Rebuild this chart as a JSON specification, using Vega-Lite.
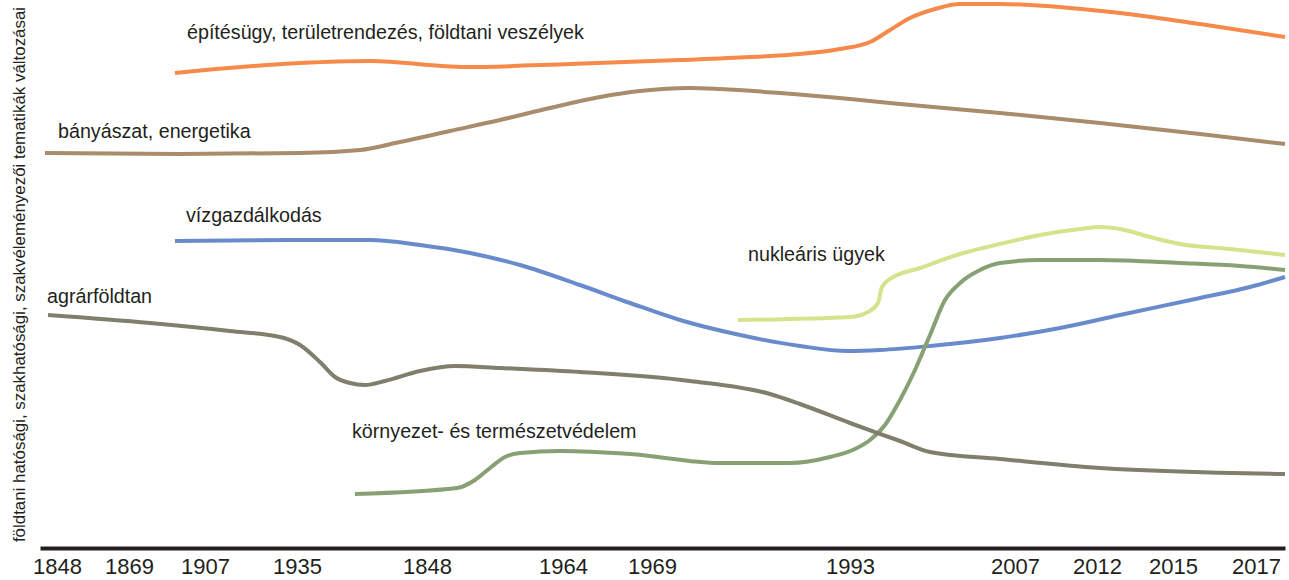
{
  "$schema": "https://vega.github.io/schema/vega-lite/v6.json",
  "width": 1245,
  "height": 548,
  "autosize": {"type": "none"},
  "padding": {"left": 40, "top": 0, "right": 4, "bottom": 32},
  "background": "white",
  "config": {"view": {"stroke": null}},
  "datasets": {
    "lines": [
      {"s": "epit", "x": 175, "v": 475}, {"s": "epit", "x": 300, "v": 485}, {"s": "epit", "x": 370, "v": 487}, {"s": "epit", "x": 465, "v": 481}, {"s": "epit", "x": 570, "v": 484}, {"s": "epit", "x": 680, "v": 488}, {"s": "epit", "x": 750, "v": 491}, {"s": "epit", "x": 800, "v": 494}, {"s": "epit", "x": 840, "v": 499}, {"s": "epit", "x": 870, "v": 506}, {"s": "epit", "x": 890, "v": 518}, {"s": "epit", "x": 910, "v": 530}, {"s": "epit", "x": 935, "v": 539}, {"s": "epit", "x": 960, "v": 544}, {"s": "epit", "x": 1000, "v": 544}, {"s": "epit", "x": 1070, "v": 540}, {"s": "epit", "x": 1120, "v": 535}, {"s": "epit", "x": 1200, "v": 524}, {"s": "epit", "x": 1285, "v": 511},
      {"s": "bany", "x": 45, "v": 395}, {"s": "bany", "x": 180, "v": 394}, {"s": "bany", "x": 300, "v": 395}, {"s": "bany", "x": 360, "v": 398}, {"s": "bany", "x": 400, "v": 406}, {"s": "bany", "x": 450, "v": 417}, {"s": "bany", "x": 500, "v": 428}, {"s": "bany", "x": 550, "v": 440}, {"s": "bany", "x": 600, "v": 451}, {"s": "bany", "x": 640, "v": 457}, {"s": "bany", "x": 690, "v": 460}, {"s": "bany", "x": 720, "v": 459}, {"s": "bany", "x": 780, "v": 455}, {"s": "bany", "x": 850, "v": 449}, {"s": "bany", "x": 900, "v": 444}, {"s": "bany", "x": 1000, "v": 435}, {"s": "bany", "x": 1100, "v": 425}, {"s": "bany", "x": 1200, "v": 414}, {"s": "bany", "x": 1285, "v": 404},
      {"s": "viz", "x": 175, "v": 307}, {"s": "viz", "x": 300, "v": 308}, {"s": "viz", "x": 370, "v": 308}, {"s": "viz", "x": 420, "v": 303}, {"s": "viz", "x": 470, "v": 295}, {"s": "viz", "x": 520, "v": 283}, {"s": "viz", "x": 580, "v": 263}, {"s": "viz", "x": 630, "v": 245}, {"s": "viz", "x": 680, "v": 228}, {"s": "viz", "x": 740, "v": 213}, {"s": "viz", "x": 800, "v": 202}, {"s": "viz", "x": 848, "v": 197}, {"s": "viz", "x": 880, "v": 198}, {"s": "viz", "x": 930, "v": 202}, {"s": "viz", "x": 1000, "v": 210}, {"s": "viz", "x": 1060, "v": 220}, {"s": "viz", "x": 1120, "v": 233}, {"s": "viz", "x": 1200, "v": 250}, {"s": "viz", "x": 1250, "v": 261}, {"s": "viz", "x": 1285, "v": 271},
      {"s": "nukl", "x": 738, "v": 228}, {"s": "nukl", "x": 850, "v": 231}, {"s": "nukl", "x": 868, "v": 236}, {"s": "nukl", "x": 878, "v": 245}, {"s": "nukl", "x": 882, "v": 261}, {"s": "nukl", "x": 890, "v": 269}, {"s": "nukl", "x": 920, "v": 280}, {"s": "nukl", "x": 960, "v": 294}, {"s": "nukl", "x": 1000, "v": 304}, {"s": "nukl", "x": 1040, "v": 313}, {"s": "nukl", "x": 1080, "v": 319}, {"s": "nukl", "x": 1100, "v": 321}, {"s": "nukl", "x": 1120, "v": 319}, {"s": "nukl", "x": 1150, "v": 311}, {"s": "nukl", "x": 1180, "v": 304}, {"s": "nukl", "x": 1230, "v": 299}, {"s": "nukl", "x": 1285, "v": 293},
      {"s": "korny", "x": 355, "v": 54}, {"s": "korny", "x": 457, "v": 60}, {"s": "korny", "x": 475, "v": 68}, {"s": "korny", "x": 490, "v": 80}, {"s": "korny", "x": 505, "v": 91}, {"s": "korny", "x": 520, "v": 95}, {"s": "korny", "x": 560, "v": 97}, {"s": "korny", "x": 630, "v": 94}, {"s": "korny", "x": 720, "v": 85}, {"s": "korny", "x": 790, "v": 85}, {"s": "korny", "x": 830, "v": 91}, {"s": "korny", "x": 855, "v": 99}, {"s": "korny", "x": 870, "v": 108}, {"s": "korny", "x": 885, "v": 123}, {"s": "korny", "x": 900, "v": 148}, {"s": "korny", "x": 915, "v": 178}, {"s": "korny", "x": 930, "v": 213}, {"s": "korny", "x": 945, "v": 248}, {"s": "korny", "x": 960, "v": 265}, {"s": "korny", "x": 980, "v": 278}, {"s": "korny", "x": 1000, "v": 285}, {"s": "korny", "x": 1040, "v": 288}, {"s": "korny", "x": 1100, "v": 288}, {"s": "korny", "x": 1180, "v": 285}, {"s": "korny", "x": 1240, "v": 282}, {"s": "korny", "x": 1285, "v": 278},
      {"s": "agrar", "x": 48, "v": 233}, {"s": "agrar", "x": 150, "v": 225}, {"s": "agrar", "x": 230, "v": 217}, {"s": "agrar", "x": 280, "v": 211}, {"s": "agrar", "x": 300, "v": 203}, {"s": "agrar", "x": 320, "v": 186}, {"s": "agrar", "x": 335, "v": 171}, {"s": "agrar", "x": 350, "v": 165}, {"s": "agrar", "x": 365, "v": 163}, {"s": "agrar", "x": 385, "v": 167}, {"s": "agrar", "x": 420, "v": 177}, {"s": "agrar", "x": 455, "v": 182}, {"s": "agrar", "x": 500, "v": 180}, {"s": "agrar", "x": 580, "v": 176}, {"s": "agrar", "x": 690, "v": 167}, {"s": "agrar", "x": 770, "v": 154}, {"s": "agrar", "x": 800, "v": 144}, {"s": "agrar", "x": 850, "v": 125}, {"s": "agrar", "x": 900, "v": 107}, {"s": "agrar", "x": 930, "v": 96}, {"s": "agrar", "x": 1000, "v": 89}, {"s": "agrar", "x": 1100, "v": 80}, {"s": "agrar", "x": 1285, "v": 74}
    ],
    "labels": [
      {"t": "építésügy, területrendezés, földtani veszélyek", "x": 187, "v": 509},
      {"t": "bányászat, energetika", "x": 58, "v": 410},
      {"t": "vízgazdálkodás", "x": 186, "v": 326},
      {"t": "nukleáris ügyek", "x": 748, "v": 287},
      {"t": "agrárföldtan", "x": 47, "v": 245},
      {"t": "környezet- és természetvédelem", "x": 352, "v": 110}
    ]
  },
  "layer": [
    {
      "data": {"name": "lines"},
      "mark": {"type": "line", "interpolate": "monotone", "strokeWidth": 4, "strokeCap": "butt"},
      "encoding": {
        "x": {
          "field": "x", "type": "quantitative",
          "scale": {"domain": [40, 1285], "nice": false, "zero": false},
          "axis": {
            "title": null,
            "values": [57, 129, 205, 297, 427, 563, 652, 850, 1015, 1097, 1173, 1256],
            "labelExpr": "['1848','1869','1907','1935','1848','1964','1969','1993','2007','2012','2015','2017'][indexof([57,129,205,297,427,563,652,850,1015,1097,1173,1256], datum.value)]",
            "ticks": false, "grid": false,
            "domainColor": "#231F20", "domainWidth": 4,
            "labelFont": "Liberation Sans", "labelFontSize": 22, "labelColor": "#231F20",
            "labelPadding": 8, "labelFlush": false, "labelOverlap": false
          }
        },
        "y": {
          "field": "v", "type": "quantitative",
          "scale": {"domain": [0, 548], "nice": false, "zero": false},
          "axis": {
            "title": "földtani hatósági, szakhatósági, szakvéleményezői tematikák változásai",
            "domain": false, "ticks": false, "labels": false, "grid": false,
            "titleFont": "Liberation Sans", "titleFontSize": 16.9, "titleFontWeight": "normal",
            "titleColor": "#231F20", "titleX": -12
          }
        },
        "color": {
          "field": "s", "type": "nominal", "legend": null,
          "scale": {
            "domain": ["epit", "bany", "viz", "nukl", "korny", "agrar"],
            "range": ["#F58A4A", "#A88C6C", "#6A8BCB", "#D4E38C", "#87A074", "#7F7F6C"]
          }
        }
      }
    },
    {
      "data": {"name": "labels"},
      "mark": {"type": "text", "align": "left", "baseline": "alphabetic", "font": "Liberation Sans", "fontSize": 19.7, "color": "#231F20"},
      "encoding": {
        "x": {"field": "x", "type": "quantitative"},
        "y": {"field": "v", "type": "quantitative"},
        "text": {"field": "t"}
      }
    }
  ]
}
